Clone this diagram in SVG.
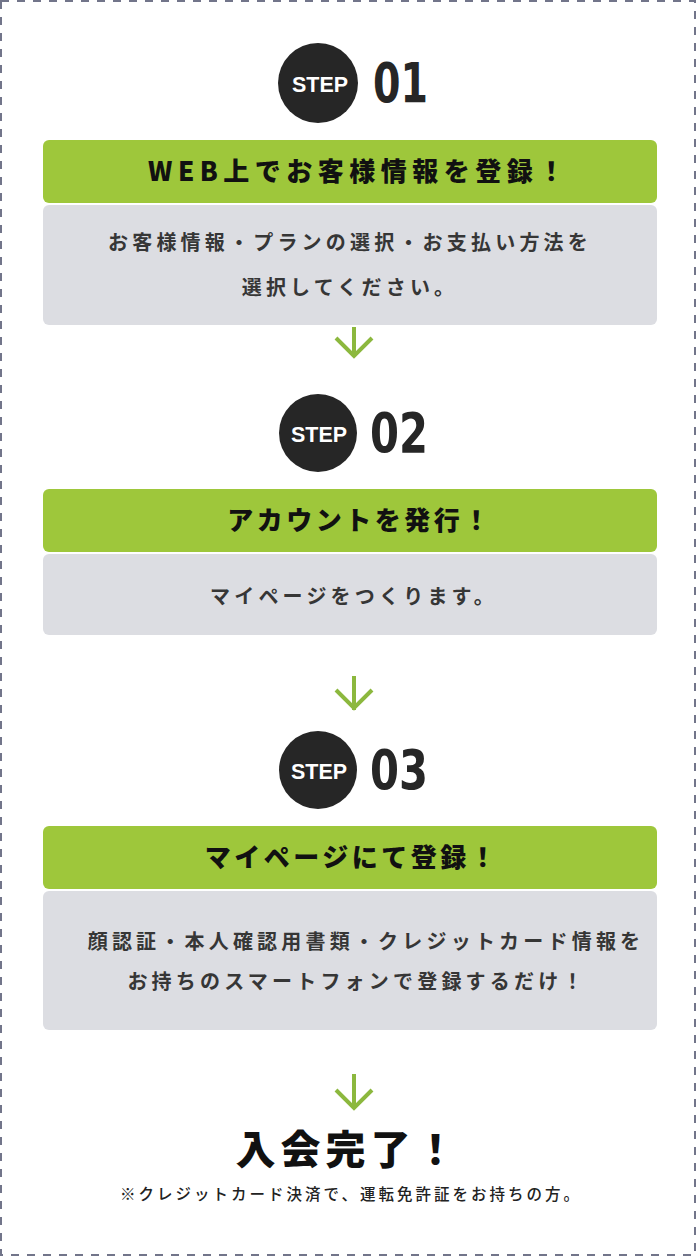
<svg xmlns="http://www.w3.org/2000/svg" width="697" height="1258" viewBox="0 0 697 1258">
<defs>
<style>
.frame{fill:#fff;stroke:#72758a;stroke-width:2;stroke-dasharray:8 8}
.circ{fill:#262626}
.stp{font-family:"Liberation Sans",Arial,sans-serif;font-weight:700;font-size:22px;fill:#fff}
.num{font-family:"DejaVu Sans","Liberation Sans",sans-serif;font-weight:700;font-size:56px;fill:#262626}
.hd{fill:#9ec73b}
.bd{fill:#dcdde2}
.ht{font-family:"Noto Sans CJK JP","Noto Sans",sans-serif;font-weight:900;font-size:26px;fill:#111;letter-spacing:3.5px}
.bt{font-family:"Noto Sans CJK JP","Noto Sans",sans-serif;font-weight:700;font-size:20px;fill:#363636;letter-spacing:4.2px}
.arr{fill:none;stroke:#8cb83e;stroke-width:4}
.fin{font-family:"Noto Sans CJK JP",sans-serif;font-weight:900;font-size:40px;fill:#111;letter-spacing:5px}
.note{font-family:"Noto Sans CJK JP",sans-serif;font-weight:500;font-size:15.5px;fill:#222;letter-spacing:3px}
</style>
</defs>
<rect class="frame" x="1" y="1" width="694" height="1254"/>
<g id="step1">
<circle class="circ" cx="318" cy="83" r="40"/>
<text class="stp" x="292" y="92" textLength="56" lengthAdjust="spacingAndGlyphs">STEP</text>
<text class="num" x="373" y="102" textLength="55" lengthAdjust="spacingAndGlyphs">01</text>
<rect class="hd" x="43" y="140" width="614" height="63" rx="6"/>
<rect class="bd" x="43" y="205" width="614" height="120" rx="6"/>
<text class="ht" x="359" y="181" text-anchor="middle" style="letter-spacing:5.5px">WEB上でお客様情報を登録！</text>
<text class="bt" x="350" y="250" text-anchor="middle">お客様情報・プランの選択・お支払い方法を</text>
<text class="bt" x="350" y="295" text-anchor="middle">選択してください。</text>
</g>
<g id="step2">
<circle class="circ" cx="318" cy="433" r="39"/>
<text class="stp" x="291" y="442" textLength="56" lengthAdjust="spacingAndGlyphs">STEP</text>
<text class="num" x="370" y="452" textLength="58" lengthAdjust="spacingAndGlyphs">02</text>
<rect class="hd" x="43" y="489" width="614" height="63" rx="6"/>
<rect class="bd" x="43" y="554" width="614" height="81" rx="6"/>
<text class="ht" x="360" y="530" text-anchor="middle">アカウントを発行！</text>
<text class="bt" x="354" y="604" text-anchor="middle">マイページをつくります。</text>
</g>
<g id="step3">
<circle class="circ" cx="318" cy="770" r="39"/>
<text class="stp" x="291" y="779" textLength="56" lengthAdjust="spacingAndGlyphs">STEP</text>
<text class="num" x="370" y="789" textLength="58" lengthAdjust="spacingAndGlyphs">03</text>
<rect class="hd" x="43" y="826" width="614" height="63" rx="6"/>
<rect class="bd" x="43" y="891" width="614" height="139" rx="6"/>
<text class="ht" x="352" y="867" text-anchor="middle">マイページにて登録！</text>
<text class="bt" x="366" y="949" text-anchor="middle">顔認証・本人確認用書類・クレジットカード情報を</text>
<text class="bt" x="357" y="989" text-anchor="middle">お持ちのスマートフォンで登録するだけ！</text>
</g>
<g id="done">
<text class="fin" x="348" y="1164" text-anchor="middle">入会完了！</text>
<text class="note" x="351" y="1200" text-anchor="middle">※クレジットカード決済で、運転免許証をお持ちの方。</text>
</g>
<g id="connectors">
<path class="arr" d="M354 327V357M336 338L354 356L372 338"/>
<path class="arr" d="M354 676V710M336 690L354 708L372 690"/>
<path class="arr" d="M354 1074V1108M336 1090L354 1108L372 1090"/>
</g>
</svg>
